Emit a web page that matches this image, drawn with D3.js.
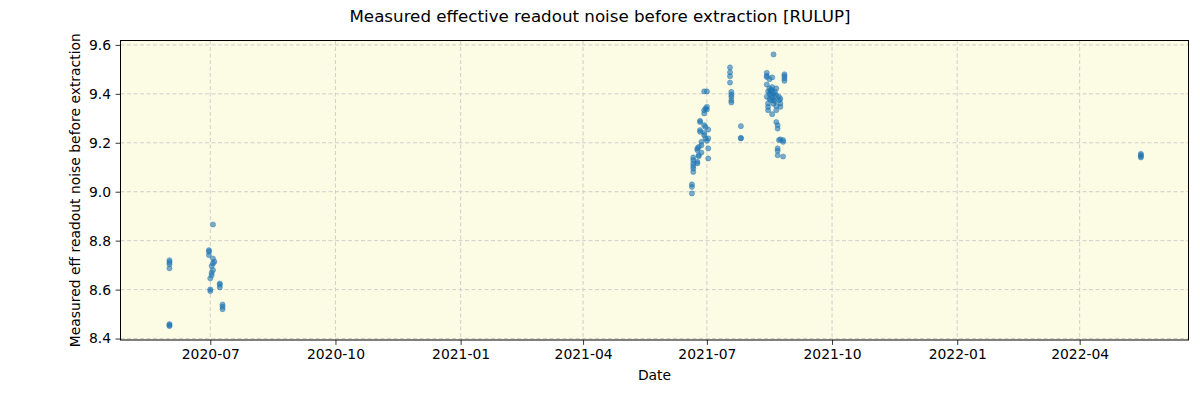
<!DOCTYPE html>
<html>
<head>
<meta charset="utf-8">
<script src="https://cdn.jsdelivr.net/npm/d3@7"></script>
<style>
  html, body { margin: 0; padding: 0; background: #ffffff; }
  svg { display: block; font-family: "DejaVu Sans", sans-serif; }
</style>
</head>
<body>
<svg id="chart" width="1200" height="400"></svg>
<script>
// ---- data ----
const chartTitle = "Measured effective readout noise before extraction [RULUP]";
const xLabel = "Date";
const yLabel = "Measured eff readout noise before extraction";
const xTickDates = ["2020-07-01", "2020-10-01", "2021-01-01", "2021-04-01", "2021-07-01", "2021-10-01", "2022-01-01", "2022-04-01"];
const yTickValues = [8.4, 8.6, 8.8, 9.0, 9.2, 9.4, 9.6];
const xDomain = ["2020-04-26", "2022-06-20"];
const yDomain = [8.394, 9.618];

const obsDates = [
  "2020-06-01","2020-06-01","2020-06-01","2020-06-01","2020-06-01","2020-06-01","2020-06-01",
  "2020-06-30","2020-06-30","2020-06-30",
  "2020-07-01","2020-07-01","2020-07-01",
  "2020-07-02","2020-07-02","2020-07-02",
  "2020-07-03","2020-07-03","2020-07-03","2020-07-03",
  "2020-07-04",
  "2020-07-08","2020-07-08","2020-07-08",
  "2020-07-10","2020-07-10","2020-07-10",
  "2021-06-20","2021-06-20","2021-06-20",
  "2021-06-21","2021-06-21","2021-06-21","2021-06-21","2021-06-21","2021-06-21",
  "2021-06-24","2021-06-24","2021-06-24","2021-06-24",
  "2021-06-25","2021-06-25","2021-06-25",
  "2021-06-26","2021-06-26","2021-06-26","2021-06-26",
  "2021-06-27","2021-06-27","2021-06-27",
  "2021-06-29","2021-06-29","2021-06-29","2021-06-29","2021-06-29","2021-06-29",
  "2021-06-30","2021-06-30","2021-06-30",
  "2021-07-01","2021-07-01","2021-07-01","2021-07-01",
  "2021-07-02","2021-07-02","2021-07-02","2021-07-02",
  "2021-07-18","2021-07-18","2021-07-18","2021-07-18",
  "2021-07-19","2021-07-19","2021-07-19","2021-07-19","2021-07-19",
  "2021-07-26","2021-07-26","2021-07-26",
  "2021-08-14","2021-08-14","2021-08-14","2021-08-14","2021-08-14",
  "2021-08-15","2021-08-15","2021-08-15","2021-08-15",
  "2021-08-16","2021-08-16","2021-08-16","2021-08-16",
  "2021-08-17","2021-08-17","2021-08-17","2021-08-17",
  "2021-08-18","2021-08-18","2021-08-18","2021-08-18","2021-08-18",
  "2021-08-19","2021-08-19","2021-08-19","2021-08-19",
  "2021-08-20","2021-08-20","2021-08-20",
  "2021-08-21","2021-08-21","2021-08-21","2021-08-21","2021-08-21",
  "2021-08-22","2021-08-22","2021-08-22","2021-08-22","2021-08-22",
  "2021-08-23","2021-08-23","2021-08-23",
  "2021-08-24","2021-08-24","2021-08-24","2021-08-24",
  "2021-08-26","2021-08-26","2021-08-26",
  "2021-08-27","2021-08-27","2021-08-27","2021-08-27",
  "2022-05-16","2022-05-16","2022-05-16","2022-05-16"
];
const noiseValues = [
  8.720, 8.712, 8.704, 8.687, 8.459, 8.451, 8.455,
  8.761, 8.755, 8.741,
  8.646, 8.601, 8.594,
  8.696, 8.669, 8.659,
  8.866, 8.727, 8.707, 8.680,
  8.714,
  8.625, 8.609, 8.620,
  8.539, 8.530, 8.520,
  9.030, 9.020, 8.993,
  9.140, 9.129, 9.116, 9.095, 9.081, 9.105,
  9.177, 9.122, 9.116, 9.170,
  9.183, 9.145, 9.150,
  9.290, 9.252, 9.285, 9.245,
  9.204, 9.190, 9.160,
  9.241, 9.231, 9.320, 9.333, 9.410, 9.272,
  9.218, 9.265, 9.340,
  9.208, 9.347, 9.336, 9.410,
  9.218, 9.254, 9.177, 9.136,
  9.508, 9.488, 9.472, 9.446,
  9.408, 9.397, 9.388, 9.374, 9.365,
  9.268, 9.218, 9.220,
  9.486, 9.474, 9.438, 9.388, 9.469,
  9.347, 9.333, 9.361, 9.410,
  9.422, 9.460, 9.400, 9.380,
  9.408, 9.374, 9.395, 9.415,
  9.467, 9.428, 9.317, 9.415, 9.385,
  9.561, 9.401, 9.374, 9.360,
  9.408, 9.390, 9.370,
  9.422, 9.395, 9.333, 9.285, 9.350,
  9.272, 9.258, 9.177, 9.167, 9.149,
  9.211, 9.388, 9.374,
  9.361, 9.347, 9.380, 9.214,
  9.204, 9.211, 9.144,
  9.480, 9.472, 9.463, 9.453,
  9.155, 9.150, 9.145, 9.140
];

// ---- layout ----
const W = 1200, H = 400;
const m = { left: 120.5, right: 11.5, top: 40.5, bottom: 60 };
const iw = W - m.left - m.right, ih = H - m.top - m.bottom;

const parse = d3.utcParse("%Y-%m-%d");
const x = d3.scaleUtc().domain(xDomain.map(parse)).range([0, iw]);
const y = d3.scaleLinear().domain(yDomain).range([ih, 0]);

const svg = d3.select("#chart");
svg.append("rect").attr("width", W).attr("height", H).attr("fill", "#ffffff");

const g = svg.append("g").attr("transform", `translate(${m.left},${m.top})`);
g.append("rect").attr("width", iw).attr("height", ih).attr("fill", "#fcfbe3");

// grid
g.append("g").selectAll("line").data(xTickDates.map(parse)).join("line")
  .attr("x1", d => x(d)).attr("x2", d => x(d)).attr("y1", 0).attr("y2", ih)
  .attr("stroke", "#cfcfcf").attr("stroke-width", 1).attr("stroke-dasharray", "4,2.5");
g.append("g").selectAll("line").data(yTickValues).join("line")
  .attr("x1", 0).attr("x2", iw).attr("y1", d => y(d)).attr("y2", d => y(d))
  .attr("stroke", "#cfcfcf").attr("stroke-width", 1).attr("stroke-dasharray", "4,2.5");

// points
const pts = obsDates.map((d, i) => ({ date: parse(d), value: noiseValues[i] }));
g.append("g").selectAll("circle").data(pts).join("circle")
  .attr("cx", d => x(d.date)).attr("cy", d => y(d.value)).attr("r", 2.6)
  .attr("fill", "#1f77b4").attr("fill-opacity", 0.6)
  .attr("stroke", "#1f77b4").attr("stroke-opacity", 0.6).attr("stroke-width", 0.6);

// axes
const xAxis = d3.axisBottom(x).tickValues(xTickDates.map(parse))
  .tickFormat(d3.utcFormat("%Y-%m")).tickSize(4.9).tickPadding(4.5);
const yAxis = d3.axisLeft(y).tickValues(yTickValues)
  .tickFormat(d3.format(".1f")).tickSize(4.9).tickPadding(4.5);

const gx = g.append("g").attr("transform", `translate(0,${ih})`).call(xAxis);
const gy = g.append("g").call(yAxis);
[gx, gy].forEach(a => {
  a.select(".domain").remove();
  a.selectAll("line").attr("stroke", "#000").attr("stroke-width", 0.8);
  a.selectAll("text").attr("font-size", "13.9px").attr("fill", "#000")
    .attr("font-family", "DejaVu Sans, sans-serif");
});

// frame
g.append("rect").attr("width", iw).attr("height", ih)
  .attr("fill", "none").attr("stroke", "#000").attr("stroke-width", 1);

// labels
svg.append("text").attr("x", 600).attr("y", 22).attr("text-anchor", "middle")
  .attr("font-size", "16.7px").attr("fill", "#000").text(chartTitle);
svg.append("text").attr("x", m.left + iw / 2).attr("y", 380).attr("text-anchor", "middle")
  .attr("font-size", "13.9px").attr("fill", "#000").text(xLabel);
svg.append("text").attr("transform", `translate(80,${m.top + ih / 2}) rotate(-90)`)
  .attr("text-anchor", "middle").attr("font-size", "13.9px").attr("fill", "#000").text(yLabel);
</script>
</body>
</html>
